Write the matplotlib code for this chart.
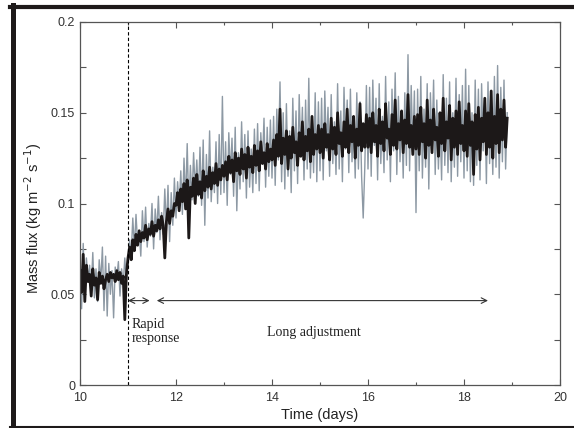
import matplotlib
matplotlib.use("Agg")
import matplotlib.pyplot as plt
from matplotlib.lines import Line2D
from matplotlib.ticker import MultipleLocator, FuncFormatter
import numpy as np

# samples every 1/30 day, starting at day 10
samples_per_day = 30
t_start = 10.0

black_day10 = [0.063, 0.051, 0.072, 0.046, 0.066, 0.057, 0.061, 0.049, 0.064, 0.055,
               0.059, 0.047, 0.062, 0.056, 0.060, 0.053, 0.058, 0.061, 0.057, 0.062,
               0.059, 0.061, 0.057, 0.063, 0.058, 0.062, 0.056, 0.060, 0.036, 0.061]
black_day11 = [0.070, 0.076, 0.069, 0.080, 0.074, 0.083, 0.077, 0.085, 0.079, 0.084,
               0.081, 0.088, 0.080, 0.086, 0.083, 0.090, 0.082, 0.088, 0.085, 0.091,
               0.086, 0.093, 0.088, 0.070, 0.090, 0.097, 0.089, 0.096, 0.093, 0.100]
black_day12 = [0.099, 0.106, 0.096, 0.108, 0.101, 0.111, 0.097, 0.113, 0.081, 0.109,
               0.104, 0.114, 0.100, 0.116, 0.105, 0.112, 0.103, 0.118, 0.107, 0.115,
               0.109, 0.120, 0.108, 0.117, 0.111, 0.122, 0.110, 0.119, 0.113, 0.121]
black_day13 = [0.115, 0.123, 0.113, 0.126, 0.117, 0.124, 0.112, 0.128, 0.118, 0.125,
               0.116, 0.130, 0.119, 0.127, 0.114, 0.131, 0.120, 0.126, 0.117, 0.132,
               0.121, 0.129, 0.118, 0.134, 0.122, 0.128, 0.119, 0.133, 0.123, 0.130]
black_day14 = [0.124, 0.135, 0.121, 0.138, 0.126, 0.152, 0.122, 0.136, 0.127, 0.140,
               0.119, 0.137, 0.125, 0.142, 0.128, 0.134, 0.121, 0.139, 0.126, 0.145,
               0.124, 0.137, 0.129, 0.141, 0.123, 0.148, 0.127, 0.138, 0.130, 0.143]
black_day15 = [0.128, 0.141, 0.125, 0.144, 0.131, 0.138, 0.124, 0.147, 0.130, 0.142,
               0.127, 0.150, 0.133, 0.139, 0.126, 0.145, 0.131, 0.152, 0.128, 0.143,
               0.134, 0.148, 0.125, 0.141, 0.132, 0.155, 0.129, 0.144, 0.131, 0.149]
black_day16 = [0.131, 0.147, 0.128, 0.150, 0.134, 0.143, 0.126, 0.152, 0.133, 0.145,
               0.129, 0.155, 0.136, 0.141, 0.127, 0.149, 0.132, 0.157, 0.130, 0.144,
               0.135, 0.151, 0.128, 0.146, 0.133, 0.160, 0.131, 0.143, 0.127, 0.148]
black_day17 = [0.130, 0.149, 0.127, 0.153, 0.134, 0.144, 0.125, 0.157, 0.132, 0.146,
               0.128, 0.152, 0.135, 0.142, 0.126, 0.150, 0.133, 0.158, 0.129, 0.145,
               0.136, 0.154, 0.124, 0.147, 0.131, 0.151, 0.127, 0.156, 0.133, 0.143]
black_day18 = [0.129, 0.151, 0.126, 0.155, 0.132, 0.145, 0.116, 0.149, 0.130, 0.153,
               0.124, 0.147, 0.134, 0.158, 0.127, 0.150, 0.131, 0.162, 0.125, 0.148,
               0.133, 0.160, 0.128, 0.152, 0.135, 0.157, 0.131, 0.147]

grey_day10 = [0.068, 0.042, 0.078, 0.050, 0.070, 0.058, 0.066, 0.052, 0.073, 0.048,
              0.064, 0.046, 0.069, 0.057, 0.076, 0.041, 0.071, 0.038, 0.067, 0.050,
              0.063, 0.037, 0.065, 0.059, 0.068, 0.049, 0.064, 0.055, 0.070, 0.058]
grey_day11 = [0.066, 0.080, 0.072, 0.092, 0.075, 0.094, 0.078, 0.085, 0.071, 0.096,
              0.079, 0.098, 0.076, 0.089, 0.082, 0.100, 0.075, 0.097, 0.084, 0.104,
              0.080, 0.095, 0.083, 0.108, 0.085, 0.110, 0.079, 0.106, 0.088, 0.114]
grey_day12 = [0.092, 0.112, 0.098, 0.118, 0.094, 0.125, 0.100, 0.133, 0.096, 0.121,
              0.102, 0.128, 0.107, 0.124, 0.104, 0.131, 0.099, 0.135, 0.088, 0.127,
              0.103, 0.140, 0.101, 0.120, 0.106, 0.134, 0.100, 0.138, 0.105, 0.159]
grey_day13 = [0.106, 0.134, 0.099, 0.139, 0.116, 0.136, 0.104, 0.142, 0.096, 0.128,
              0.108, 0.145, 0.112, 0.138, 0.103, 0.140, 0.109, 0.130, 0.106, 0.141,
              0.111, 0.144, 0.107, 0.139, 0.122, 0.147, 0.109, 0.142, 0.115, 0.146]
grey_day14 = [0.114, 0.148, 0.110, 0.152, 0.124, 0.167, 0.112, 0.150, 0.108, 0.155,
              0.115, 0.140, 0.106, 0.158, 0.118, 0.151, 0.111, 0.160, 0.127, 0.153,
              0.113, 0.157, 0.119, 0.169, 0.114, 0.142, 0.117, 0.161, 0.112, 0.156]
grey_day15 = [0.118, 0.158, 0.113, 0.162, 0.129, 0.153, 0.115, 0.160, 0.122, 0.145,
              0.116, 0.166, 0.119, 0.151, 0.112, 0.164, 0.130, 0.157, 0.117, 0.163,
              0.123, 0.146, 0.114, 0.161, 0.119, 0.156, 0.115, 0.092, 0.120, 0.165]
grey_day16 = [0.119, 0.164, 0.115, 0.168, 0.132, 0.158, 0.113, 0.166, 0.122, 0.148,
              0.117, 0.170, 0.124, 0.156, 0.112, 0.163, 0.129, 0.172, 0.116, 0.159,
              0.123, 0.150, 0.114, 0.161, 0.121, 0.182, 0.118, 0.165, 0.130, 0.162]
grey_day17 = [0.095, 0.163, 0.118, 0.170, 0.114, 0.152, 0.120, 0.166, 0.108, 0.161,
              0.131, 0.168, 0.116, 0.157, 0.119, 0.148, 0.113, 0.171, 0.121, 0.158,
              0.117, 0.167, 0.112, 0.150, 0.120, 0.169, 0.115, 0.160, 0.123, 0.165]
grey_day18 = [0.114, 0.174, 0.118, 0.165, 0.112, 0.150, 0.110, 0.168, 0.121, 0.163,
              0.113, 0.166, 0.129, 0.158, 0.111, 0.167, 0.122, 0.149, 0.116, 0.170,
              0.120, 0.176, 0.114, 0.164, 0.123, 0.168, 0.119, 0.150]

black_flux = (black_day10 + black_day11 + black_day12 + black_day13 + black_day14
              + black_day15 + black_day16 + black_day17 + black_day18)
grey_flux = (grey_day10 + grey_day11 + grey_day12 + grey_day13 + grey_day14
             + grey_day15 + grey_day16 + grey_day17 + grey_day18)

t_black = t_start + np.arange(len(black_flux)) / samples_per_day
t_grey = t_start + np.arange(len(grey_flux)) / samples_per_day

fig = plt.figure(figsize=(5.74, 4.28), dpi=100)
ax = fig.add_axes([80 / 574, 43 / 428, 480 / 574, 363 / 428])

ax.plot(t_grey, grey_flux, color="#8d99a4", linewidth=1.0)
ax.plot(t_black, black_flux, color="#1c1818", linewidth=2.0)

ax.axvline(11, color="black", linestyle=(0, (3, 2)), linewidth=0.8)

ax.annotate("", xy=(11.0, 0.0465), xytext=(11.45, 0.0465),
            arrowprops=dict(arrowstyle="<->", color="#333333", lw=0.8,
                            shrinkA=0, shrinkB=0))
ax.annotate("", xy=(11.6, 0.0465), xytext=(18.5, 0.0465),
            arrowprops=dict(arrowstyle="<->", color="#333333", lw=0.8,
                            shrinkA=0, shrinkB=0))
ax.text(11.08, 0.0295, "Rapid\nresponse", family="Liberation Serif",
        fontsize=10, va="center", ha="left", linespacing=1.1, color="#222222")
ax.text(14.87, 0.029, "Long adjustment", family="Liberation Serif",
        fontsize=10, va="center", ha="center", color="#222222")

ax.set_xlim(10, 20)
ax.set_ylim(0, 0.2)
ax.xaxis.set_major_locator(MultipleLocator(2))
ax.xaxis.set_minor_locator(MultipleLocator(1))
ax.yaxis.set_major_locator(MultipleLocator(0.025))
ax.yaxis.set_major_formatter(FuncFormatter(
    lambda v, p: "%g" % round(v, 3) if abs(v / 0.05 - round(v / 0.05)) < 1e-6 else ""))
ax.tick_params(which="both", direction="in", top=True, right=True,
               color="#555555", labelsize=9, labelcolor="#333333")
ax.tick_params(which="major", length=4, width=0.8)
ax.tick_params(which="minor", length=2, width=0.8)
ax.tick_params(axis="x", pad=5)
for lab in ax.get_xticklabels() + ax.get_yticklabels():
    lab.set_family("Liberation Sans")
for s in ax.spines.values():
    s.set_color("#555555")
    s.set_linewidth(0.9)

ax.set_xlabel("Time (days)", family="Liberation Sans", fontsize=10.5,
              color="#222222", labelpad=3)
ax.set_ylabel("Mass flux (kg m$^{-2}$ s$^{-1}$)", family="Liberation Sans",
              fontsize=10.5, color="#222222")
ax.yaxis.set_label_coords(-0.075, 0.46)

# dark page frame around the figure
fig.add_artist(Line2D([12.5 / 574, 12.5 / 574], [0, 1 - 5 / 428],
                      transform=fig.transFigure, color="#1e1a1a", lw=3.6))
fig.add_artist(Line2D([10 / 574, 1], [1 - 7 / 428, 1 - 7 / 428],
                      transform=fig.transFigure, color="#1e1a1a", lw=3.0))
fig.add_artist(Line2D([10 / 574, 1], [1 / 428, 1 / 428],
                      transform=fig.transFigure, color="#1e1a1a", lw=1.5))

fig.savefig("out.png", dpi=100)
